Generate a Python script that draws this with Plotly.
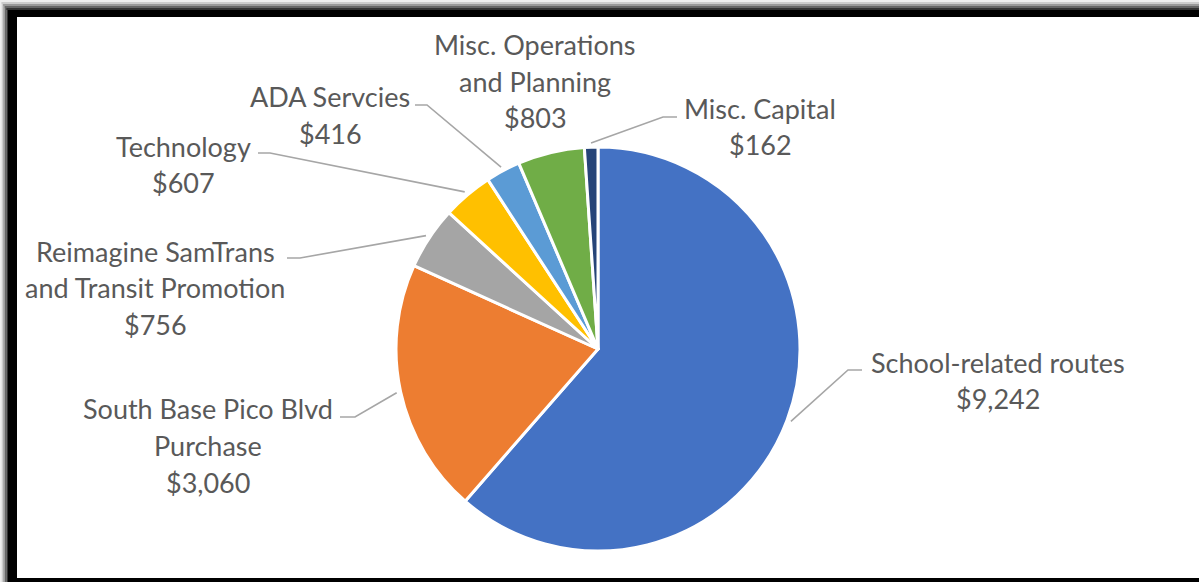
import math
import plotly.graph_objects as go

# ---------------- data ----------------
categories = [
    "School-related routes",
    "South Base Pico Blvd Purchase",
    "Reimagine SamTrans and Transit Promotion",
    "Technology",
    "ADA Servcies",
    "Misc. Operations and Planning",
    "Misc. Capital",
]
values = [9242, 3060, 756, 607, 416, 803, 162]
colors = ["#4472C4", "#ED7D31", "#A5A5A5", "#FFC000", "#5B9BD5", "#70AD47", "#264478"]

# ---------------- layout (pixels) ----------------
W, H = 1199, 582
CX, CY, R = 598, 349, 202
LINE_H = 36.5
FONT = dict(family="Lato, 'Open Sans', sans-serif", size=27, color="#595959")

# per label: words in first line (None = no wrap), text centre x, first line y, elbow, end
label_layout = [
    (None, 998, 362, (848, 370), (862, 370)),
    (4, 208, 409, (355, 417), (340, 417)),
    (2, 155, 251, (300, 258), (287, 258)),
    (None, 183, 146, (270, 153), (258, 153)),
    (None, 330, 97, (427, 105), (415, 105)),
    (2, 535, 45, None, None),
    (None, 760, 108, (663, 117), (677, 117)),
]


def px(x):
    return x / W


def py(y):
    return 1 - y / H


fig = go.Figure(
    go.Pie(
        labels=categories,
        values=values,
        sort=False,
        direction="clockwise",
        rotation=0,
        marker=dict(colors=colors, line=dict(color="white", width=3)),
        textinfo="none",
        showlegend=False,
        domain=dict(x=[px(CX - R), px(CX + R)], y=[py(CY + R), py(CY - R)]),
    )
)

annotations = []
shapes = []
total = sum(values)
cum = 0
for cat, val, lay in zip(categories, values, label_layout):
    nwords, tx, ty, elbow, end = lay
    words = cat.split(" ")
    if nwords is None:
        lines = [cat]
    else:
        lines = [" ".join(words[:nwords]), " ".join(words[nwords:])]
    lines.append("${:,}".format(val))
    for i, ln in enumerate(lines):
        annotations.append(dict(
            x=px(tx), y=py(ty + i * LINE_H), xref="paper", yref="paper",
            text=ln, showarrow=False, xanchor="center", yanchor="middle",
            font=FONT,
        ))
    mid = (cum + val / 2) / total * 2 * math.pi
    cum += val
    if elbow is not None:
        sx = CX + 1.02 * R * math.sin(mid)
        sy = CY - 1.02 * R * math.cos(mid)
        path = "M {},{} L {},{} L {},{}".format(
            px(sx), py(sy), px(elbow[0]), py(elbow[1]), px(end[0]), py(end[1]))
        shapes.append(dict(type="path", path=path, xref="paper", yref="paper",
                           line=dict(color="#A6A6A6", width=1.6)))

# frame with soft shadow
grad = ["#eeeeee", "#cccccc", "#999999", "#666666", "#333333"]
for i, c in enumerate(grad):
    shapes.append(dict(type="rect", xref="paper", yref="paper", layer="above",
                       x0=px(i * 1.6), x1=px(i * 1.6 + 1.6), y0=py(582), y1=py(i * 2),
                       fillcolor=c, line=dict(width=0)))
    shapes.append(dict(type="rect", xref="paper", yref="paper", layer="above",
                       x0=px(i * 1.6), x1=px(1199), y0=py(i * 2 + 2), y1=py(i * 2),
                       fillcolor=c, line=dict(width=0)))
shapes.append(dict(type="rect", xref="paper", yref="paper", layer="above",
                   x0=px(8), x1=px(17), y0=py(582), y1=py(10),
                   fillcolor="black", line=dict(width=0)))
shapes.append(dict(type="rect", xref="paper", yref="paper", layer="above",
                   x0=px(8), x1=px(1199), y0=py(17), y1=py(10),
                   fillcolor="black", line=dict(width=0)))
shapes.append(dict(type="rect", xref="paper", yref="paper", layer="above",
                   x0=px(8), x1=px(1199), y0=py(582), y1=py(578),
                   fillcolor="black", line=dict(width=0)))

fig.update_layout(
    width=W, height=H,
    margin=dict(l=0, r=0, t=0, b=0),
    paper_bgcolor="white",
    plot_bgcolor="white",
    annotations=annotations,
    shapes=shapes,
)

fig.write_html("out.html", config={"displayModeBar": False},
               post_script="document.body.style.margin='0';document.body.style.overflow='hidden';")
